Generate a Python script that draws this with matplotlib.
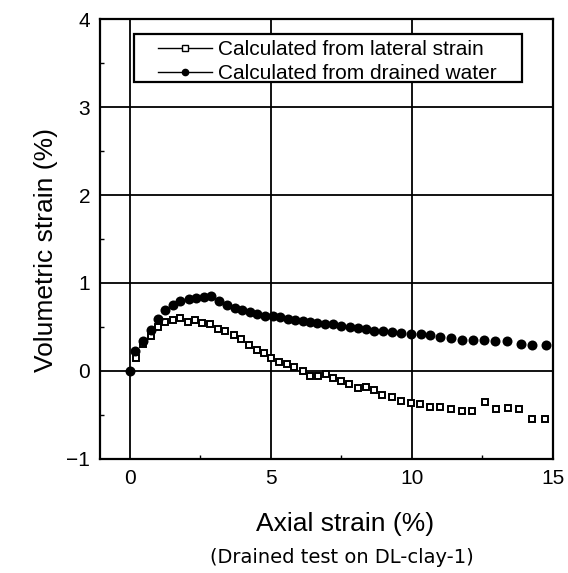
import numpy as np
import matplotlib
matplotlib.use("Agg")
import matplotlib.pyplot as plt
from matplotlib.patches import Rectangle
from matplotlib.lines import Line2D

# volumetric strain computed from lateral strain measurements
lat_x = [0.21, 0.48, 0.74, 1.01, 1.25, 1.52, 1.79, 2.06, 2.32, 2.56, 2.83, 3.12,
         3.39, 3.69, 3.93, 4.23, 4.50, 4.76, 5.02, 5.30, 5.57, 5.83, 6.13, 6.40,
         6.67, 6.94, 7.20, 7.48, 7.77, 8.07, 8.36, 8.65, 8.95, 9.29, 9.62, 9.96,
         10.27, 10.63, 11.01, 11.37, 11.76, 12.14, 12.58, 12.98, 13.39, 13.81,
         14.26, 14.70]
lat_y = [0.15, 0.31, 0.40, 0.50, 0.56, 0.58, 0.60, 0.56, 0.58, 0.55, 0.53, 0.48,
         0.46, 0.41, 0.36, 0.30, 0.24, 0.20, 0.15, 0.10, 0.08, 0.05, 0.00, -0.06,
         -0.06, -0.03, -0.08, -0.11, -0.15, -0.19, -0.18, -0.22, -0.27, -0.30,
         -0.34, -0.36, -0.37, -0.41, -0.41, -0.43, -0.45, -0.45, -0.35, -0.43,
         -0.42, -0.43, -0.55, -0.55]

# volumetric strain computed from drained water volume
drn_x = [0.0, 0.18, 0.45, 0.74, 0.98, 1.25, 1.52, 1.79, 2.08, 2.36, 2.62, 2.88,
         3.15, 3.43, 3.71, 3.99, 4.26, 4.52, 4.79, 5.06, 5.33, 5.60, 5.87, 6.14,
         6.40, 6.65, 6.90, 7.20, 7.50, 7.80, 8.07, 8.36, 8.65, 8.96, 9.29, 9.62,
         9.98, 10.32, 10.65, 11.01, 11.37, 11.76, 12.17, 12.56, 12.95, 13.36,
         13.87, 14.26, 14.74]
drn_y = [0.0, 0.23, 0.34, 0.47, 0.59, 0.69, 0.75, 0.79, 0.82, 0.83, 0.84, 0.85,
         0.79, 0.75, 0.72, 0.69, 0.67, 0.65, 0.63, 0.62, 0.61, 0.59, 0.58, 0.57,
         0.56, 0.55, 0.53, 0.53, 0.51, 0.50, 0.49, 0.48, 0.46, 0.45, 0.44, 0.43,
         0.42, 0.42, 0.41, 0.39, 0.37, 0.35, 0.35, 0.35, 0.34, 0.34, 0.31, 0.30,
         0.29]

x_ticks = [0, 5, 10, 15]
y_ticks = [-1, 0, 1, 2, 3, 4]

plt.rcParams["font.family"] = ["Liberation Sans", "DejaVu Sans"]

fig = plt.figure(figsize=(5.68, 5.73), dpi=100)
ax = fig.add_axes([0.176, 0.199, 0.7976, 0.7678])

ax.plot(lat_x, lat_y, ls="none", marker="s", ms=5.0, mew=1.4,
        mfc="white", mec="black", zorder=3, clip_on=False)
ax.plot(drn_x, drn_y, ls="none", marker="o", ms=7.2, mew=0,
        mfc="black", zorder=4, clip_on=False)

ax.set_xlim(-1.06, 15)
ax.set_ylim(-1, 4)
ax.set_xticks(x_ticks)
ax.set_yticks(y_ticks)
ax.set_xticks(np.arange(0, 15, 2.5), minor=True)
ax.set_yticks(np.arange(-1, 4, 0.5), minor=True)
ax.tick_params(which="major", direction="in", length=0, labelsize=15, pad=7)
ax.tick_params(which="minor", direction="in", length=3, width=1)

ax.grid(True, which="major", color="black", lw=1.3)
ax.set_axisbelow(True)
for sp in ax.spines.values():
    sp.set_linewidth(1.6)

ax.set_ylabel("Volumetric strain (%)", fontsize=19)
ax.yaxis.set_label_coords(-0.093, 0.475)
ax.set_xlabel("Axial strain (%)", fontsize=19)
ax.xaxis.set_label_coords(0.541, -0.12)
ax.text(0.534, -0.224, "(Drained test on DL-clay-1)", transform=ax.transAxes,
        ha="center", va="center", fontsize=14, family="DejaVu Sans")

# legend box drawn separately so the padding can be set per side
ax.add_patch(Rectangle((0.075, 0.857), 0.857, 0.109, transform=ax.transAxes,
                       fill=True, fc="white", ec="black", lw=1.6, zorder=5))
handles = [
    Line2D([], [], color="black", lw=1, marker="s", ms=3.8, mfc="white",
           mec="black", mew=1.0),
    Line2D([], [], color="black", lw=1, marker="o", ms=4.5, mfc="black"),
]
leg = ax.legend(handles, ["Calculated from lateral strain",
                          "Calculated from drained water"],
                loc="upper left", bbox_to_anchor=(0.128, 0.952),
                frameon=False, borderpad=0, borderaxespad=0,
                fontsize=15, handlelength=2.6, handletextpad=0.3,
                labelspacing=0.24)
leg.set_zorder(6)

fig.savefig("out.png", dpi=100)
